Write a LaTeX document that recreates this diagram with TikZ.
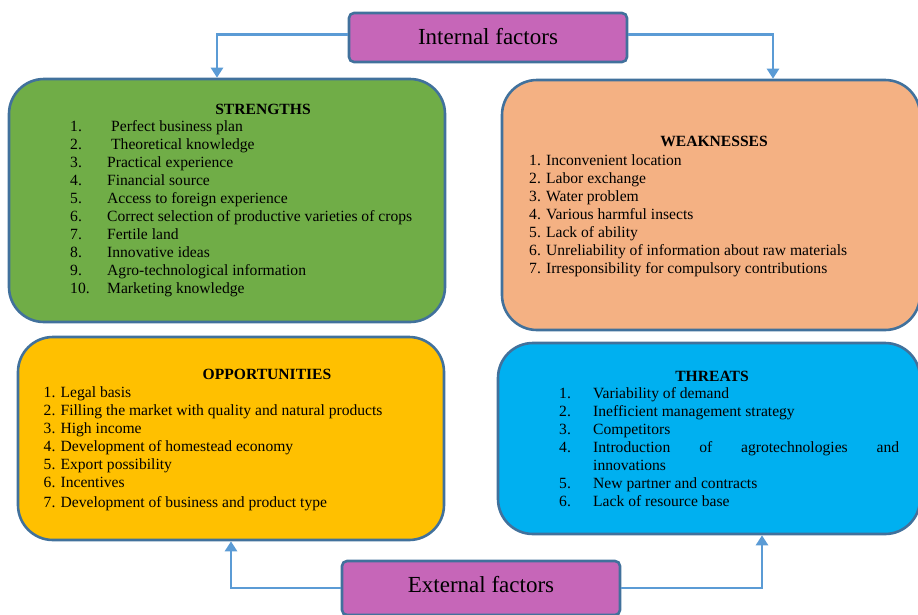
\documentclass[tikz,border=0pt]{standalone}
\usepackage{fontspec}
\setmainfont{Liberation Serif}
\usetikzlibrary{arrows.meta}
\definecolor{boxline}{HTML}{41719C}
\definecolor{arrowblue}{HTML}{5B9BD5}
\definecolor{tagfill}{HTML}{C666B8}
\definecolor{strfill}{HTML}{70AD47}
\definecolor{wkfill}{HTML}{F4B183}
\definecolor{oppfill}{HTML}{FFC000}
\definecolor{thrfill}{HTML}{00B0F0}
\newcommand{\listfont}{\fontsize{15.6}{18}\selectfont}

\begin{document}
\begin{tikzpicture}[x=1pt,y=-1pt,
    box/.style={draw=boxline,line width=2.6pt,rounded corners=35pt,inner sep=0pt},
    tag/.style={draw=boxline,line width=2.6pt,fill=tagfill,rounded corners=5pt,
      minimum width=278pt,text depth=3pt,font=\fontsize{23}{28}\selectfont},
    head/.style={anchor=base,inner sep=0pt,font=\listfont\bfseries},
    list/.style={anchor=base west,inner sep=0pt,font=\listfont},
    arrow/.style={draw=arrowblue,line width=2.5pt,-{Triangle[width=12pt,length=10pt]}}]
 \useasboundingbox (0,0) rectangle (918,614);

 \node[box,fill=strfill,minimum width=436pt,minimum height=243pt] (str) at (227,200.5) {};
 \node[box,fill=wkfill,minimum width=418pt,minimum height=250pt] (wk) at (711,205) {};
 \node[box,fill=oppfill,minimum width=426pt,minimum height=203pt] (opp) at (231,438.5) {};
 \node[box,fill=thrfill,minimum width=422pt,minimum height=191pt] (thr) at (709,438.5) {};

 \node[tag,minimum height=49pt] (int) at (488,37.5) {Internal factors};
 \node[tag,minimum height=54pt,text depth=8pt] (ext) at (481,588) {External factors};

 \node[head] (strhead) at (263,114) {STRENGTHS};
 \node[list] (strlist) at (70,131.5) {\begin{tabular}[t]{@{}p{37pt}@{}l@{}}
   1. & \hspace{4pt}Perfect business plan\\
   2. & \hspace{4pt}Theoretical knowledge\\
   3. & Practical experience\\
   4. & Financial source\\
   5. & Access to foreign experience\\
   6. & Correct selection of productive varieties of crops\\
   7. & Fertile land\\
   8. & Innovative ideas\\
   9. & Agro-technological information\\
   10. & Marketing knowledge
 \end{tabular}};

 \node[head] (wkhead) at (714,146.5) {WEAKNESSES};
 \node[list] (wklist) at (529,165) {\begin{tabular}[t]{@{}l@{}}
   1. Inconvenient location\\
   2. Labor exchange\\
   3. Water problem\\
   4. Various harmful insects\\
   5. Lack of ability\\
   6. Unreliability of information about raw materials\\
   7. Irresponsibility for compulsory contributions
 \end{tabular}};

 \node[head] (opphead) at (267,379) {OPPORTUNITIES};
 \node[list] (opplist) at (43.5,397.3) {\begin{tabular}[t]{@{}l@{}}
   1. Legal basis\\
   2. Filling the market with quality and natural products\\
   3. High income\\
   4. Development of homestead economy\\
   5. Export possibility\\
   6. Incentives\\[2pt]
   7. Development of business and product type
 \end{tabular}};

 \node[head] (thrhead) at (712,381.5) {THREATS};
 \node[list] (thrlist) at (559,398.7) {\begin{tabular}[t]{@{}p{34pt}@{}p{306pt}@{}}
   1. & Variability of demand\\
   2. & Inefficient management strategy\\
   3. & Competitors\\
   4. & Introduction\hfill of\hfill agrotechnologies\hfill and\\
      & innovations\\
   5. & New partner and contracts\\
   6. & Lack of resource base
 \end{tabular}};

 \draw[arrow] ([yshift=3pt]int.west) -| ([xshift=-10pt]str.north);
 \draw[arrow] ([yshift=3pt]int.east) -| ([xshift=62pt]wk.north);
 \draw[arrow] (ext.west) -| (opp.south);
 \draw[arrow] (ext.east) -| ([xshift=53pt]thr.south);
\end{tikzpicture}
\end{document}
